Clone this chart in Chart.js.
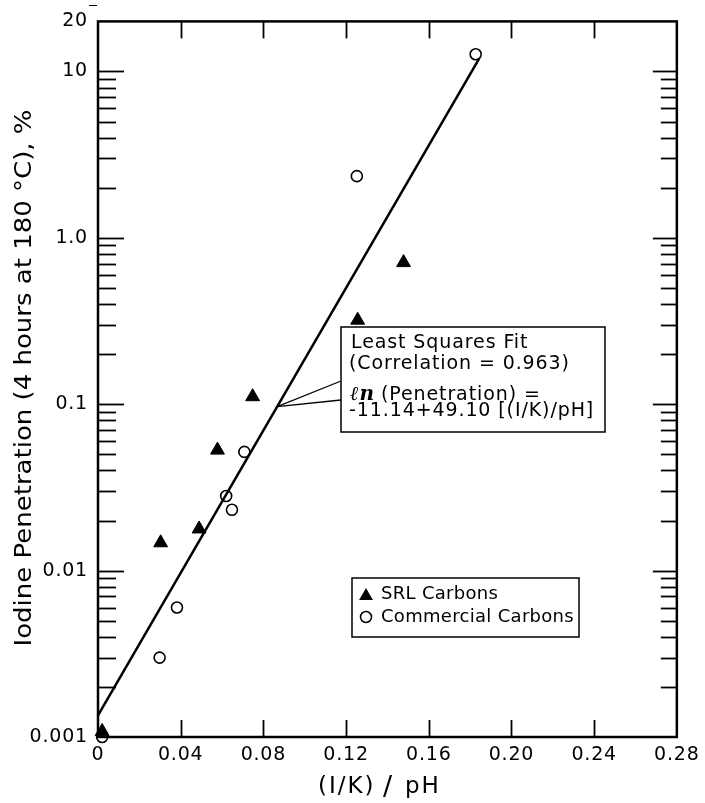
<!DOCTYPE html>
<html><head><meta charset="utf-8">
<script src="https://cdn.jsdelivr.net/npm/chart.js@4.4.0/dist/chart.umd.min.js"></script>
<style>html,body{margin:0;padding:0;background:#fff}#wrap{width:705px;height:803px}</style>
</head><body><div id="wrap"><canvas id="c" width="705" height="803"></canvas></div>
<script>
// ---- data ----
const xTickValues = [0, 0.04, 0.08, 0.12, 0.16, 0.20, 0.24, 0.28];
const xTickLabels = ['0', '0.04', '0.08', '0.12', '0.16', '0.20', '0.24', '0.28'];
const yTickValues = [0.001, 0.01, 0.1, 1, 10, 20];
const yTickLabels = ['0.001', '0.01', '0.1', '1.0', '10', '20'];

const srlX = [0.002, 0.0303, 0.0489, 0.0578, 0.0748, 0.1256, 0.1478];
const srlY = [0.00108, 0.0147, 0.0178, 0.053, 0.111, 0.32, 0.71];
const comX = [0.002, 0.0298, 0.0382, 0.0620, 0.0648, 0.0708, 0.1252, 0.1827];
const comY = [0.001, 0.0030, 0.0060, 0.0281, 0.0232, 0.0517, 2.35, 12.7];
const fitX = [0, 0.1843];
const fitY = [0.00135, 11.9];

const legendLabels = ['SRL Carbons', 'Commercial Carbons'];
const fitLines = ['Least Squares Fit', '(Correlation = 0.963)', ' (Penetration) =', '-11.14+49.10 [(I/K)/pH]'];
const xTitleParts = ['(I/K)', '/', 'pH'];
const yTitle = 'Iodine Penetration (4 hours at 180 °C), %';

const FONT = '"DejaVu Sans", sans-serif';

function line(ctx, x1, y1, x2, y2) { ctx.beginPath(); ctx.moveTo(x1, y1); ctx.lineTo(x2, y2); ctx.stroke(); }
function tri(ctx, x, y, r) {
  ctx.beginPath();
  ctx.moveTo(x, y - r);
  ctx.lineTo(x + r * 0.866, y + r * 0.5);
  ctx.lineTo(x - r * 0.866, y + r * 0.5);
  ctx.closePath(); ctx.fill();
}

const framePlugin = {
  id: 'framePlugin',
  beforeDraw(chart) {
    chart.ctx.letterSpacing = '0.8px';
  },
  beforeDatasetsDraw(chart) {
    const { ctx, chartArea: a, scales: { x, y } } = chart;
    ctx.save();
    ctx.strokeStyle = '#000';
    ctx.lineWidth = 2.5;
    ctx.strokeRect(a.left, a.top, a.right - a.left, a.bottom - a.top);
    ctx.lineWidth = 1.8;
    for (const d of [0.001, 0.01, 0.1, 1, 10]) {
      for (let k = 1; k <= 9; k++) {
        const v = k * d;
        if (v <= 0.0011 || v >= 19.9) continue;
        const py = Math.round(y.getPixelForValue(v)) + 0.5;
        const major = k === 1;
        line(ctx, a.left, py, a.left + (major ? 26 : 18), py);
        line(ctx, a.right, py, a.right - (major ? 24 : 16), py);
      }
    }
    for (const v of xTickValues) {
      if (v <= 0 || v >= 0.279) continue;
      const px = Math.round(x.getPixelForValue(v)) + 0.5;
      line(ctx, px, a.bottom, px, a.bottom - 17);
      line(ctx, px, a.top, px, a.top + 17);
    }
    ctx.lineWidth = 1;
    line(ctx, 89, 5.5, 97, 5.5);
    ctx.restore();
  },
  afterDraw(chart) {
    const { ctx, scales: { x, y } } = chart;
    ctx.save();
    ctx.fillStyle = '#000'; ctx.strokeStyle = '#000';
    // x title
    ctx.font = '23px ' + FONT;
    ctx.textBaseline = 'alphabetic';
    ctx.textAlign = 'left';
    ctx.letterSpacing = '2px';
    ctx.fillText(xTitleParts[0], 318, 793);
    ctx.font = '27px ' + FONT;
    ctx.fillText(xTitleParts[1], 383, 795);
    ctx.font = '23px ' + FONT;
    ctx.fillText(xTitleParts[2], 405, 793);
    ctx.letterSpacing = '0px';
    // y title
    ctx.save();
    ctx.translate(25, 378);
    ctx.rotate(-Math.PI / 2);
    ctx.font = '23px ' + FONT;
    ctx.textBaseline = 'middle';
    const w = ctx.measureText(yTitle).width;
    ctx.scale(537 / w, 1);
    ctx.textAlign = 'center';
    ctx.fillText(yTitle, 0, 0);
    ctx.restore();

    // annotation box
    const bx = 341, by = 327, bw = 264, bh = 105;
    ctx.lineWidth = 1.5;
    ctx.strokeRect(bx, by, bw, bh);
    const px1 = x.getPixelForValue(fitX[0]), py1 = y.getPixelForValue(fitY[0]);
    const px2 = x.getPixelForValue(fitX[1]), py2 = y.getPixelForValue(fitY[1]);
    const lx = x.getPixelForValue(0.0867);
    const ly = py1 + (py2 - py1) * (lx - px1) / (px2 - px1);
    ctx.lineWidth = 1.3;
    line(ctx, bx, 381, lx, ly);
    line(ctx, bx, 400, lx, ly);
    ctx.font = '19px ' + FONT;
    ctx.textAlign = 'left';
    ctx.textBaseline = 'alphabetic';
    ctx.letterSpacing = '0.9px';
    ctx.fillText(fitLines[0], 351, 348);
    ctx.fillText(fitLines[1], 349, 369);
    ctx.font = 'italic bold 20px "DejaVu Serif", serif';
    ctx.fillText('ℓn', 350, 400);
    ctx.font = '19px ' + FONT;
    ctx.fillText(fitLines[2], 374, 400);
    ctx.fillText(fitLines[3], 349, 416);
    ctx.letterSpacing = '0px';

    // legend box
    const lgx = 352, lgy = 578, lgw = 227, lgh = 59;
    ctx.lineWidth = 1.5;
    ctx.strokeRect(lgx, lgy, lgw, lgh);
    tri(ctx, 366, 596, 8);
    ctx.beginPath(); ctx.arc(366, 617, 5.5, 0, Math.PI * 2); ctx.lineWidth = 1.5; ctx.stroke();
    ctx.font = '18px ' + FONT;
    ctx.textBaseline = 'middle';
    ctx.letterSpacing = '0.3px';
    ctx.fillText(legendLabels[0], 381, 594);
    ctx.fillText(legendLabels[1], 381, 617);
    ctx.letterSpacing = '0px';
    ctx.restore();
  }
};

const toPts = (xs, ys) => xs.map((v, i) => ({ x: v, y: ys[i] }));

new Chart(document.getElementById('c'), {
  type: 'scatter',
  data: {
    datasets: [
      {
        type: 'line', label: 'fit', data: toPts(fitX, fitY),
        borderColor: '#000', borderWidth: 2.5, pointRadius: 0, fill: false, clip: false, order: 3
      },
      {
        label: legendLabels[0], data: toPts(srlX, srlY),
        pointStyle: 'triangle', pointRadius: 8, backgroundColor: '#000', borderColor: '#000', borderWidth: 1, clip: false, order: 1
      },
      {
        label: legendLabels[1], data: toPts(comX, comY),
        pointStyle: 'circle', pointRadius: 5.5, backgroundColor: 'rgba(255,255,255,0)', borderColor: '#000', borderWidth: 1.6, clip: false, order: 2
      }
    ]
  },
  options: {
    responsive: false, animation: false, devicePixelRatio: 1,
    layout: { padding: { top: 19, right: 19, left: 0, bottom: 0 } },
    plugins: { legend: { display: false }, tooltip: { enabled: false }, title: { display: false } },
    scales: {
      x: {
        type: 'linear', min: 0, max: 0.28,
        grid: { display: false, drawTicks: false }, border: { display: false },
        afterBuildTicks: s => { s.ticks = xTickValues.map(v => ({ value: v })); },
        afterFit: s => { s.height = 66; },
        ticks: {
          padding: 7, color: '#000', maxRotation: 0, autoSkip: false,
          font: { family: FONT, size: 19 },
          callback: (v, i) => xTickLabels[i]
        }
      },
      y: {
        type: 'logarithmic', min: 0.001, max: 20,
        grid: { display: false, drawTicks: false }, border: { display: false },
        afterBuildTicks: s => { s.ticks = yTickValues.map(v => ({ value: v })); },
        afterFit: s => { s.width = 98; },
        ticks: {
          padding: 10, color: '#000', autoSkip: false,
          font: { family: FONT, size: 19 },
          callback: (v, i) => yTickLabels[i]
        }
      }
    }
  },
  plugins: [framePlugin]
});
</script>
</body></html>
